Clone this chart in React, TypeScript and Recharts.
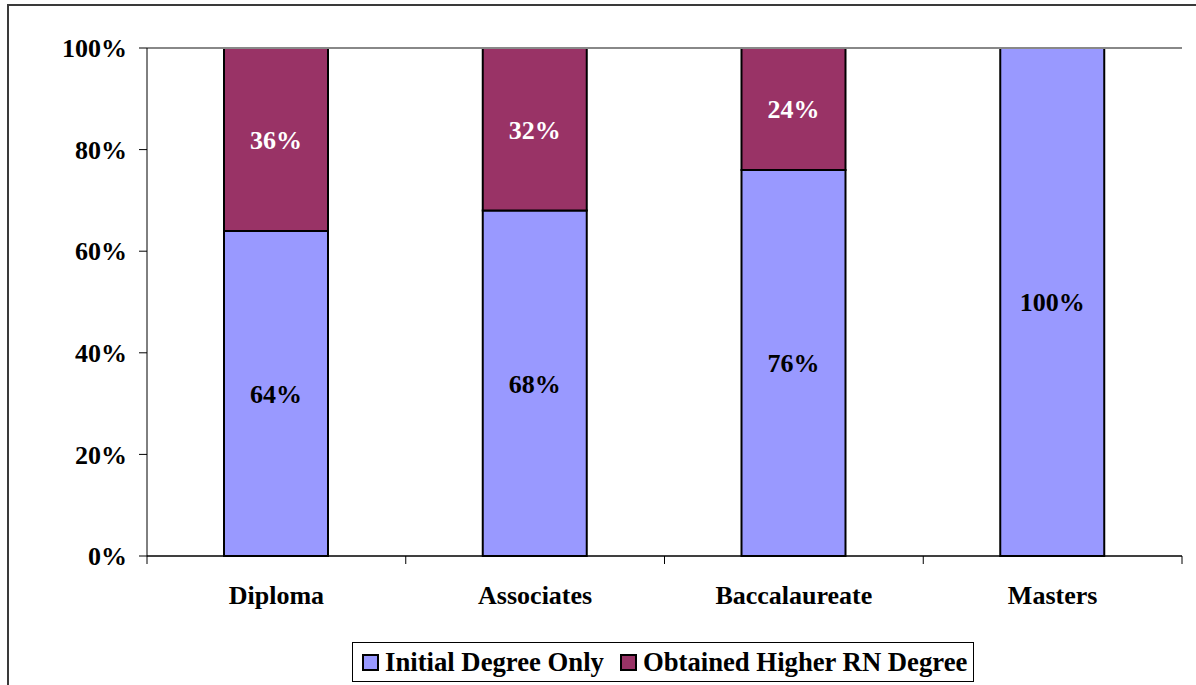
import { BarChart, Bar, XAxis, YAxis, CartesianGrid, LabelList, Legend, ReferenceLine } from "recharts";

const categories = ["Diploma", "Associates", "Baccalaureate", "Masters"];
const initialOnly = [64, 68, 76, 100];
const higherDegree = [36, 32, 24, 0];
const yTicks = [0, 20, 40, 60, 80, 100];

const BLUE = "#9999FF";
const MAROON = "#993366";
const FONT = '"Liberation Serif", "Times New Roman", serif';

const data = categories.map((name, i) => ({
  name,
  initial: initialOnly[i],
  higher: higherDegree[i],
}));

const legendItems = [
  { label: "Initial Degree Only", color: BLUE },
  { label: "Obtained Higher RN Degree", color: MAROON },
];

function pct(v: unknown) {
  const n = Number(v);
  return n ? `${n}%` : "";
}

// category label plus tick marks on the band edges (not centres)
function CategoryTick(props: any) {
  const { x, y, payload, index, visibleTicksCount } = props;
  const half = payload?.offset ?? 0;
  const last = index === visibleTicksCount - 1;
  return (
    <g>
      <line x1={x - half} x2={x - half} y1={y} y2={y + 8} stroke="#000" strokeWidth={1} />
      {last && <line x1={x + half} x2={x + half} y1={y} y2={y + 8} stroke="#000" strokeWidth={1} />}
      <text x={x} y={y + 48} textAnchor="middle" fontFamily={FONT} fontWeight="bold" fontSize={26} fill="#000">
        {payload.value}
      </text>
    </g>
  );
}

function LegendBox() {
  return (
    <div
      style={{
        boxSizing: "border-box",
        width: 622,
        height: 40,
        border: "1px solid #000",
        display: "flex",
        alignItems: "center",
        paddingLeft: 9,
        fontFamily: FONT,
        fontWeight: "bold",
        fontSize: 26.7,
        color: "#000",
        whiteSpace: "nowrap",
      }}
    >
      {legendItems.map((it, i) => (
        <div key={it.label} style={{ display: "flex", alignItems: "center", marginRight: i === 0 ? 16 : 0 }}>
          <div
            style={{
              boxSizing: "border-box",
              width: 17,
              height: 17,
              background: it.color,
              border: "2px solid #000",
              marginRight: 6,
            }}
          />
          <span>{it.label}</span>
        </div>
      ))}
    </div>
  );
}

export default function App() {
  return (
    <div style={{ position: "fixed", left: 0, top: 0, width: 1196, height: 685, overflow: "hidden", background: "#fff" }}>
      <div
        style={{
          position: "absolute",
          left: 7,
          top: 4,
          width: 1250,
          height: 750,
          border: "2px solid #3a3a3a",
        }}
      />
      <div style={{ position: "absolute", left: 0, top: 0 }}>
        <BarChart
          width={1196}
          height={685}
          data={data}
          margin={{ top: 48, right: 14, left: 0, bottom: 69 }}
          barSize={104}
        >
          <CartesianGrid horizontal vertical={false} stroke="#000" strokeWidth={1} />
          <XAxis
            dataKey="name"
            axisLine={{ stroke: "#000", strokeWidth: 1 }}
            tickLine={false}
            tickSize={0}
            tickMargin={0}
            height={60}
            interval={0}
            tick={<CategoryTick />}
          />
          <YAxis
            yAxisId="l"
            width={147}
            domain={[0, 100]}
            ticks={yTicks}
            tickFormatter={(v) => `${v}%`}
            axisLine={{ stroke: "#000", strokeWidth: 1 }}
            tickLine={{ stroke: "#000", strokeWidth: 1 }}
            tickSize={8}
            tickMargin={12}
            tick={{ fill: "#000", fontFamily: FONT, fontWeight: "bold", fontSize: 26 }}
          />
          <YAxis
            yAxisId="r"
            orientation="right"
            width={0}
            domain={[0, 100]}
            tick={false}
            tickLine={false}
            axisLine={{ stroke: "#888", strokeWidth: 2 }}
          />
          <ReferenceLine yAxisId="l" y={100} stroke="#888" strokeWidth={2} />
          <Legend
            layout="horizontal"
            verticalAlign="middle"
            align="center"
            content={<LegendBox />}
            wrapperStyle={{ left: 352, top: 642, width: 622, height: 40 }}
          />
          <Bar yAxisId="l" dataKey="initial" stackId="a" fill={BLUE} stroke="#000" strokeWidth={2} isAnimationActive={false}>
            <LabelList
              dataKey="initial"
              position="center"
              formatter={pct}
              fill="#000"
              fontFamily={FONT}
              fontWeight="bold"
              fontSize={26}
            />
          </Bar>
          <Bar yAxisId="l" dataKey="higher" stackId="a" fill={MAROON} stroke="#000" strokeWidth={2} isAnimationActive={false}>
            <LabelList
              dataKey="higher"
              position="center"
              formatter={pct}
              fill="#fff"
              fontFamily={FONT}
              fontWeight="bold"
              fontSize={26}
            />
          </Bar>
        </BarChart>
      </div>
    </div>
  );
}
